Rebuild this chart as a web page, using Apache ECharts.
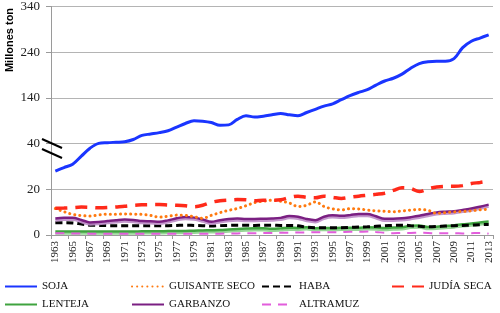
<!DOCTYPE html>
<html>
<head>
<meta charset="utf-8">
<script src="https://cdn.jsdelivr.net/npm/echarts@6/dist/echarts.min.js"></script>
<style>html,body{margin:0;padding:0;background:#fff}#c{width:500px;height:313px}</style>
</head>
<body>
<div id="c"></div>
<script>
const years = [];
for (let y = 1963; y <= 2013; y++) years.push(String(y));

const yTickValues = [0, 20, 40, 140, 240, 340];

const soja = [28,29.5,31,34.5,38,40.5,42,43,44,49,58,61,64,68,76,84,90,89,86,80,81,93,101,98,100,103,106,103,101,108,115,122,127,136,145,152,158,168,177,183,192,205,215,219,220,220,226,250,264,271,278];
const guisante = [11.6,10.2,9,8.5,8.3,8.8,9.1,9.1,9.2,9.1,9,8.6,7.8,8.2,8.7,8.6,8,7.3,8.6,9.8,10.8,11.6,12.8,14.2,14.8,15.2,14.8,14,12.5,13,14.5,12.5,11.4,11,11.5,11.4,10.9,10.6,10.4,10.2,10.5,10.9,11.2,10.8,9.5,9.8,10.1,10.3,10.6,11,11.3];
const haba = [5.4,5.4,5.3,4.8,4.3,4.2,4.1,4.1,4.1,4.1,4.1,4.1,4.1,4.1,4.2,4.3,4.2,4.1,3.9,4.1,4.2,4.3,4.3,4.2,4.3,4.3,4.2,4.2,4.0,3.4,3.2,3.2,3.2,3.2,3.3,3.5,3.6,3.8,4.0,4.2,4.3,4.1,3.8,3.6,3.7,3.9,4.1,4.2,4.3,4.5,4.6];
const judia = [11.7,11.8,12,12.2,12.1,11.9,12,12.3,12.6,13,13.2,13.3,13.3,13.1,13,12.8,12.4,13,14.3,15,15.3,15.5,15.4,15,15.2,15.2,15.4,16.4,17,16.5,16.3,17,16.5,16,16.5,17,17.4,17.8,18.3,19.5,20.7,20.4,19,20.2,21,21.3,21.3,21.6,22.5,23,23.6];
const lenteja = [1.5,1.5,1.5,1.5,1.5,1.5,1.5,1.5,1.5,1.5,1.6,1.6,1.6,1.7,1.7,1.8,1.9,2.0,2.1,2.2,2.4,2.6,2.8,3.0,2.9,2.7,2.9,3.2,3.1,3.4,3.0,3.1,3.0,3.2,3.2,3.2,3.4,3.3,3.1,3.3,3.4,4.0,4.2,3.5,3.6,3.9,4.2,4.7,5.0,5.5,5.9];
const garbanzo = [7.2,7.5,7.5,6.6,5.5,5.7,6.1,6.5,6.8,6.6,6.1,6,5.8,6.4,7.3,7.9,7.6,6.8,5.8,6.5,7,7.2,7,7,7.1,7.2,7.5,8.3,8,7,6.5,8,8.6,8.4,8.7,9.2,9.2,8.2,7.1,7.1,7.3,7.8,8.4,9.2,9.9,10.2,10.4,11,11.6,12.4,13.3];
const altramuz = [0.8,0.8,0.7,0.7,0.6,0.6,0.6,0.5,0.5,0.5,0.5,0.5,0.5,0.5,0.5,0.5,0.5,0.5,0.6,0.6,0.7,0.7,0.8,0.8,0.9,0.9,1.0,1.0,1.1,1.1,1.2,1.2,1.2,1.3,1.4,1.4,1.5,1.3,1.0,0.8,0.9,0.9,1.0,0.9,0.7,0.8,0.8,0.7,0.8,0.9,0.6];

// broken axis: 0..40 linear, above 40 compressed 5x
function tf(v) { return v <= 40 ? v : 40 + (v - 40) / 5; }
const tfTicks = yTickValues.map(tf);

const serif = '"Liberation Serif", "DejaVu Serif", serif';

function mk(name, data, color, width, type, extra) {
  const ls = Object.assign({ color: color, width: width, type: type }, extra || {});
  return {
    name: name, type: 'line', data: data.map(tf), smooth: 0.35,
    symbol: 'none', showSymbol: false, lineStyle: ls, itemStyle: { color: color },
    emphasis: { disabled: true }
  };
}

const series = [
  mk('LENTEJA', lenteja, '#3fa33f', 2.5, 'solid', { shadowColor: 'rgba(140,210,140,0.9)', shadowOffsetY: 2 }),
  mk('ALTRAMUZ', altramuz, '#e25ddc', 2, [9, 7]),
  mk('HABA', haba, '#000000', 3, [7, 4]),
  mk('GARBANZO', garbanzo, '#7a1f82', 2.5, 'solid', { shadowColor: 'rgba(190,140,200,0.9)', shadowOffsetY: 2 }),
  mk('GUISANTE SECO', guisante, '#ff7a10', 3, [0.1, 5], { cap: 'round' }),
  mk('JUDÍA SECA', judia, '#ff2a1a', 3.5, [12, 8]),
  mk('SOJA', soja, '#1a35ff', 3, 'solid')
];

function leg(left, names) {
  return {
    orient: 'vertical', left: left, top: 281, padding: 0,
    itemWidth: 32, itemHeight: 12, itemGap: 7,
    data: names, selectedMode: false,
    itemStyle: { opacity: 0 },
    textStyle: { fontFamily: serif, fontSize: 11, color: '#111' }
  };
}

const option = {
  animation: false,
  backgroundColor: '#fff',
  grid: { left: 51, right: 7, top: 5, bottom: 78, containLabel: false },
  legend: [
    leg(4, ['SOJA', 'LENTEJA']),
    leg(131, ['GUISANTE SECO', 'GARBANZO']),
    leg(261, ['HABA', 'ALTRAMUZ']),
    leg(391, ['JUDÍA SECA'])
  ],
  xAxis: {
    type: 'category', data: years, boundaryGap: true,
    axisLine: { lineStyle: { color: '#9a9a9a', width: 1 } },
    axisTick: { show: true, interval: 1, length: 4, lineStyle: { color: '#9a9a9a' } },
    axisLabel: { interval: 1, rotate: 90, fontFamily: serif, fontSize: 11, color: '#222', margin: 6 }
  },
  yAxis: {
    type: 'value', min: 0, max: 100, interval: 20,
    axisLine: { show: true, lineStyle: { color: '#9a9a9a' } },
    axisTick: { show: true, length: 5, lineStyle: { color: '#9a9a9a' } },
    splitLine: { lineStyle: { color: '#b4b4b4', width: 1 } },
    axisLabel: {
      fontFamily: serif, fontSize: 13, color: '#222', margin: 11,
      formatter: function (v) {
        const i = tfTicks.indexOf(v);
        return i >= 0 ? String(yTickValues[i]) : '';
      }
    }
  },
  graphic: [
    { type: 'text', x: 10, y: 40, rotation: Math.PI / 2,
      style: { text: 'Millones ton', font: 'bold 11px "Liberation Sans", Arial, sans-serif', fill: '#000', align: 'center', verticalAlign: 'middle' } },
    { type: 'line', shape: { x1: 42, y1: 139, x2: 62, y2: 148 }, style: { stroke: '#000', lineWidth: 2 }, z: 100 },
    { type: 'line', shape: { x1: 42, y1: 149, x2: 62, y2: 158 }, style: { stroke: '#000', lineWidth: 2 }, z: 100 }
  ],
  series: series
};

const chart = echarts.init(document.getElementById('c'), null, { renderer: 'canvas' });
chart.setOption(option);
</script>
</body>
</html>
